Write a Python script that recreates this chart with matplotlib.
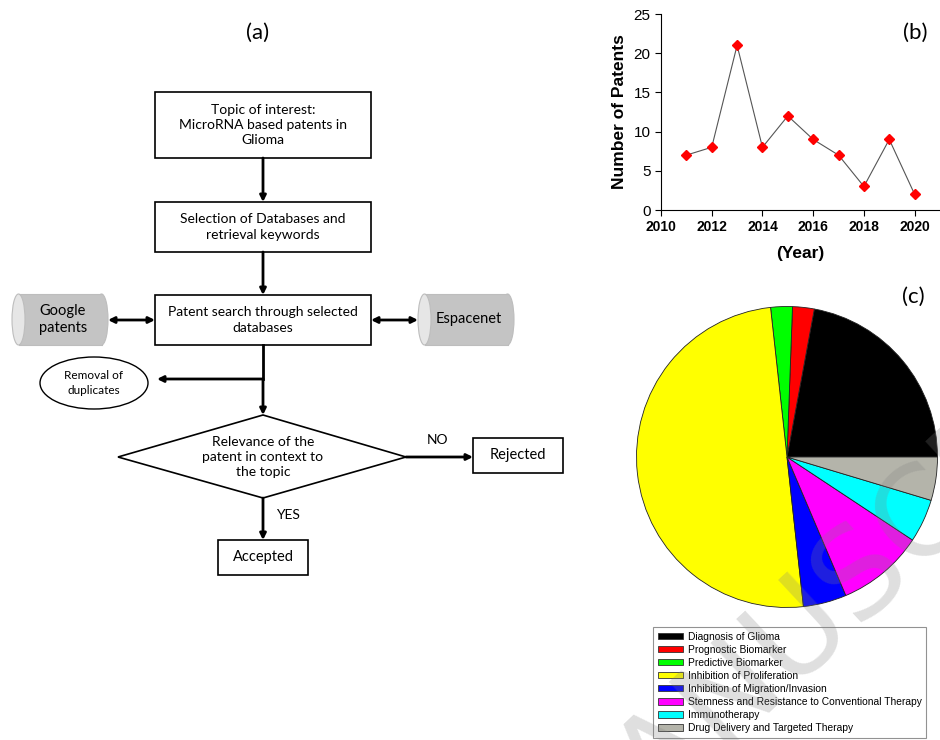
import matplotlib
matplotlib.use("Agg")
import matplotlib.pyplot as plt
from matplotlib.patches import Rectangle, Ellipse, Polygon
import numpy as np

# ---------------- data ----------------
years = [2011, 2012, 2013, 2014, 2015, 2016, 2017, 2018, 2019, 2020]
patents = [7, 8, 21, 8, 12, 9, 7, 3, 9, 2]
x_ticks = [2010, 2012, 2014, 2016, 2018, 2020]
y_ticks = [0, 5, 10, 15, 20, 25]

categories = ["Diagnosis of Glioma", "Prognostic Biomarker", "Predictive Biomarker",
              "Inhibition of Proliferation", "Inhibition of Migration/Invasion",
              "Stemness and Resistance to Conventional Therapy", "Immunotherapy",
              "Drug Delivery and Targeted Therapy"]
cat_counts = [19, 2, 2, 43, 4, 8, 4, 4]
cat_colors = ["#000000", "#ff0000", "#00ff00", "#ffff00", "#0000ff",
              "#ff00ff", "#00ffff", "#b4b4aa"]

W, H = 940, 740
fig = plt.figure(figsize=(W / 100, H / 100), dpi=100)

def fx(px):
    return px / W

def fy(py):
    return 1 - py / H

# ---------------- flowchart (a) ----------------
fa = fig.add_axes([0, 0, 1, 1])
fa.set_xlim(0, W)
fa.set_ylim(H, 0)
fa.axis("off")
FF = "Lato"
fs = 10

fa.text(258, 33, "(a)", fontsize=16, family=FF, ha="center", va="center")

def box(x0, y0, x1, y1, text, size=fs):
    fa.add_patch(Rectangle((x0, y0), x1 - x0, y1 - y0, fill=False, ec="black", lw=1.2))
    fa.text((x0 + x1) / 2, (y0 + y1) / 2, text, fontsize=size, family=FF,
            ha="center", va="center", linespacing=1.35)

def arrow(x0, y0, x1, y1, both=False):
    fa.annotate("", xy=(x1, y1), xytext=(x0, y0),
                arrowprops=dict(arrowstyle="<|-|>" if both else "-|>", lw=2,
                                color="black", mutation_scale=9,
                                shrinkA=0, shrinkB=0))

def cylinder(x0, y0, x1, y1, text):
    h = y1 - y0
    cw = 13
    fa.add_patch(Ellipse((x1 - cw / 2, (y0 + y1) / 2), cw, h, fc="#c4c4c4", ec="#bdbdbd", lw=0.8))
    fa.add_patch(Rectangle((x0 + cw / 2, y0), (x1 - x0) - cw, h, fc="#c4c4c4", ec="none"))
    fa.plot([x0 + cw / 2, x1 - cw / 2], [y0, y0], color="#bdbdbd", lw=0.8)
    fa.plot([x0 + cw / 2, x1 - cw / 2], [y1, y1], color="#bdbdbd", lw=0.8)
    fa.add_patch(Ellipse((x0 + cw / 2, (y0 + y1) / 2), cw, h, fc="#e6e6e6", ec="#bdbdbd", lw=0.8))
    fa.text((x0 + x1) / 2 + 3, (y0 + y1) / 2, text, fontsize=10.5, family=FF,
            ha="center", va="center", linespacing=1.3)

box(155, 92, 371, 158, "Topic of interest:\nMicroRNA based patents in\nGlioma")
arrow(263, 158, 263, 202)
box(155, 202, 371, 252, "Selection of Databases and\nretrieval keywords")
arrow(263, 252, 263, 295)
box(155, 295, 371, 345, "Patent search through selected\ndatabases")
cylinder(12, 294, 108, 345, "Google\npatents")
cylinder(418, 294, 514, 345, "Espacenet")
arrow(108, 320, 155, 320, both=True)
arrow(371, 320, 418, 320, both=True)

fa.plot([263, 263], [345, 379], color="black", lw=2)
arrow(263, 379, 157, 379)
fa.add_patch(Ellipse((94, 383), 108, 52, fill=False, ec="black", lw=1))
fa.text(94, 383, "Removal of\nduplicates", fontsize=8.5, family=FF, ha="center",
        va="center", linespacing=1.35)
arrow(263, 379, 263, 415)

fa.add_patch(Polygon([(263, 415), (406, 457), (263, 498), (118, 457)], closed=True,
                     fill=False, ec="black", lw=1.2))
fa.text(263, 457, "Relevance of the\npatent in context to\nthe topic", fontsize=fs,
        family=FF, ha="center", va="center", linespacing=1.35)
arrow(406, 457, 473, 457)
fa.text(437, 440, "NO", fontsize=fs, family=FF, ha="center", va="center")
box(473, 438, 563, 473, "Rejected", size=10.5)
arrow(263, 498, 263, 540)
fa.text(288, 515, "YES", fontsize=fs, family=FF, ha="center", va="center")
box(218, 540, 308, 575, "Accepted", size=10.5)

# ---------------- line chart (b) ----------------
ab = fig.add_axes([fx(661), fy(210), fx(940) - fx(661), fy(14) - fy(210)])
ab.plot(years, patents, color="#555555", lw=0.8, zorder=2)
ab.plot(years, patents, ls="none", marker="D", ms=5, color="#ff0000",
        mec="#ff0000", zorder=3)
ab.set_xlim(2010, 2021)
ab.set_ylim(0, 25)
ab.set_xticks(x_ticks)
ab.set_yticks(y_ticks)
ab.spines["top"].set_visible(False)
ab.spines["right"].set_visible(False)
ab.tick_params(direction="out", length=4, width=0.8)
for lab in ab.get_xticklabels():
    lab.set_fontweight("bold")
    lab.set_fontsize(10)
    lab.set_family("Liberation Sans")
for lab in ab.get_yticklabels():
    lab.set_fontsize(11)
    lab.set_family("Liberation Sans")
ab.set_ylabel("Number of Patents", fontsize=12.5, fontweight="bold",
              family="Liberation Sans", labelpad=5)
ab.set_xlabel("(Year)", fontsize=12.5, fontweight="bold", family="Liberation Sans",
              labelpad=8)
ab.patch.set_alpha(0)
fig.text(fx(915), fy(33), "(b)", fontsize=16, family=FF, ha="center", va="center")

# ---------------- pie chart (c) ----------------
cx, cy, r = 787, 457, 152
ac = fig.add_axes([fx(cx - r), fy(cy + r), fx(2 * r), fy(cy - r) - fy(cy + r)])
wedges, _ = ac.pie(cat_counts, colors=cat_colors, startangle=0, counterclock=True,
                   wedgeprops=dict(edgecolor="#222222", linewidth=0.6))
ac.set_xlim(-1.01, 1.01)
ac.set_ylim(-1.01, 1.01)
ac.set_aspect("auto")
ac.axis("off")
fig.text(fx(913), fy(297), "(c)", fontsize=16, family=FF, ha="center", va="center")

leg = fig.legend(wedges, categories, loc="upper left",
                 bbox_to_anchor=(fx(653), fy(627)), bbox_transform=fig.transFigure,
                 frameon=True, fancybox=False, edgecolor="#777777",
                 prop=dict(family="Liberation Sans", size=7.35),
                 handlelength=2.5, handleheight=0.6, labelspacing=0.3,
                 handletextpad=0.45, borderpad=0.45, borderaxespad=0)
leg.get_frame().set_linewidth(0.8)
for h in leg.legend_handles:
    h.set_edgecolor("#333333")
    h.set_linewidth(0.6)

# ---------------- watermark ----------------
fig.text(fx(578), fy(880), "MANUSCRIPT", fontsize=90, family="DejaVu Sans",
         color="#808080", alpha=0.25, rotation=43, rotation_mode="anchor",
         ha="left", va="baseline", zorder=20)

fig.savefig("out.png", dpi=100)
